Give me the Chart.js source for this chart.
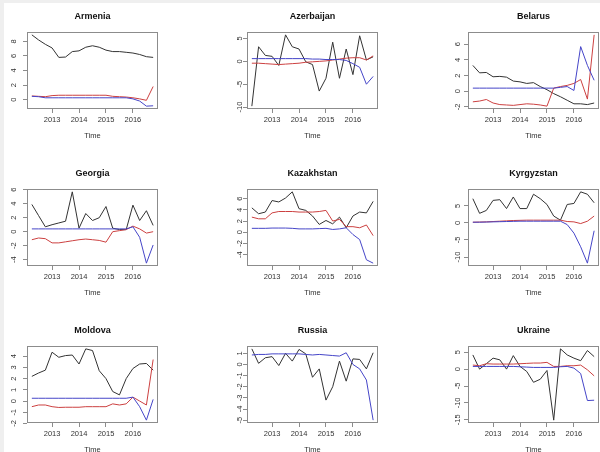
<!DOCTYPE html>
<html>
<head>
<meta charset="utf-8">
<script src="https://cdn.jsdelivr.net/npm/chart.js@4.4.1/dist/chart.umd.min.js"></script>
<style>
  html, body { margin: 0; padding: 0; background: #ffffff; }
  #wrap { position: absolute; left: 0; top: 0; width: 600px; height: 452px; overflow: hidden; background: #efefef; }
  #sheet { position: absolute; left: 4px; top: 3px; right: 0; bottom: 0; background: #ffffff; }
  canvas { position: absolute; }
</style>
</head>
<body>
<div id="wrap"><div id="sheet"></div></div>
<script>
// Quarterly observations, 2012 Q2 – 2016 Q4
const quarters = [2012.25, 2012.5, 2012.75, 2013, 2013.25, 2013.5, 2013.75, 2014, 2014.25, 2014.5,
                  2014.75, 2015, 2015.25, 2015.5, 2015.75, 2016, 2016.25, 2016.5, 2016.75];
const yearTicks = [2013, 2014, 2015, 2016];

const countries = ['Armenia', 'Azerbaijan', 'Belarus', 'Georgia', 'Kazakhstan', 'Kyrgyzstan', 'Moldova', 'Russia', 'Ukraine'];

// Armenia
const armeniaBlack = [8.9, 8.2, 7.6, 7.1, 5.8, 5.85, 6.6, 6.7, 7.2, 7.4, 7.2, 6.8, 6.6, 6.6, 6.5, 6.4, 6.2, 5.9, 5.8];
const armeniaRed   = [0.5, 0.45, 0.4, 0.55, 0.6, 0.6, 0.6, 0.6, 0.6, 0.6, 0.6, 0.6, 0.45, 0.4, 0.35, 0.25, 0.1, -0.1, 1.8];
const armeniaBlue  = [0.45, 0.4, 0.25, 0.25, 0.25, 0.25, 0.25, 0.25, 0.25, 0.25, 0.25, 0.25, 0.25, 0.25, 0.25, 0.1, -0.2, -0.9, -0.85];
const armeniaTicks = [0, 2, 4, 6, 8];

// Azerbaijan
const azerbaijanBlack = [-9.8, 3.2, 1.3, 1.1, -0.9, 5.8, 3.2, 2.7, -0.1, -0.7, -6.5, -3.7, 4.2, -3.7, 2.7, -2.9, 5.6, 0.3, 1.0];
const azerbaijanRed   = [-0.4, -0.4, -0.5, -0.6, -0.7, -0.6, -0.5, -0.4, -0.2, -0.1, 0.0, 0.1, 0.3, 0.5, 0.7, 0.8, 0.8, 0.3, 1.2];
const azerbaijanBlue  = [0.6, 0.6, 0.6, 0.6, 0.6, 0.6, 0.6, 0.6, 0.6, 0.5, 0.5, 0.4, 0.4, 0.4, 0.2, -0.5, -1.3, -5.0, -3.3];
const azerbaijanTicks = [-10, -5, 0, 5];

// Belarus
const belarusBlack = [3.3, 2.35, 2.4, 1.85, 1.9, 1.8, 1.3, 1.2, 1.0, 1.1, 0.6, 0.2, -0.3, -0.7, -1.15, -1.6, -1.6, -1.7, -1.5];
const belarusRed   = [-1.35, -1.25, -1.05, -1.5, -1.7, -1.75, -1.8, -1.7, -1.6, -1.65, -1.75, -1.9, 0.4, 0.6, 0.75, 1.0, 1.5, -1.0, 7.2];
const belarusBlue  = [0.4, 0.4, 0.4, 0.4, 0.4, 0.4, 0.4, 0.4, 0.4, 0.4, 0.4, 0.4, 0.4, 0.5, 0.6, 0.1, 5.7, 3.3, 1.4];
const belarusTicks = [-2, 0, 2, 4, 6];

// Georgia
const georgiaBlack = [3.9, 2.3, 0.7, 1.0, 1.25, 1.5, 5.7, 0.5, 2.6, 1.6, 2.0, 3.6, 0.5, 0.3, 0.3, 3.8, 1.6, 3.0, 0.9];
const georgiaRed   = [-1.15, -0.9, -1.0, -1.6, -1.6, -1.45, -1.3, -1.15, -1.05, -1.15, -1.25, -1.5, 0.0, 0.15, 0.3, 0.8, 0.4, -0.2, 0.0];
const georgiaBlue  = [0.4, 0.4, 0.4, 0.4, 0.4, 0.4, 0.4, 0.4, 0.4, 0.4, 0.4, 0.4, 0.4, 0.4, 0.4, 0.7, -0.8, -4.5, -1.9];
const georgiaTicks = [-4, -2, 0, 2, 4, 6];

// Kazakhstan
const kazakhstanBlack = [4.35, 3.3, 3.6, 5.65, 5.4, 6.1, 7.2, 4.2, 3.9, 2.9, 1.4, 2.1, 1.5, 2.7, 0.8, 2.9, 3.6, 3.45, 5.5];
const kazakhstanRed   = [2.7, 2.4, 2.4, 3.45, 3.7, 3.7, 3.7, 3.6, 3.6, 3.6, 3.7, 3.9, 2.0, 2.3, 1.0, 1.0, 0.8, 1.3, -0.6];
const kazakhstanBlue  = [0.7, 0.7, 0.7, 0.75, 0.75, 0.75, 0.7, 0.6, 0.6, 0.6, 0.65, 0.7, 0.5, 0.6, 0.8, -0.4, -1.3, -4.9, -5.5];
const kazakhstanTicks = [-4, -2, 0, 2, 4, 6];

// Kyrgyzstan
const kyrgyzstanBlack = [7.1, 2.8, 3.65, 6.6, 6.8, 4.2, 7.6, 4.2, 4.2, 8.4, 7.1, 5.4, 2.0, 0.8, 5.4, 5.7, 9.1, 8.4, 5.9];
const kyrgyzstanRed   = [0.2, 0.25, 0.3, 0.4, 0.5, 0.6, 0.7, 0.75, 0.8, 0.8, 0.8, 0.8, 0.8, 0.8, 0.4, 0.3, -0.2, 0.5, 2.0];
const kyrgyzstanBlue  = [0.2, 0.2, 0.25, 0.3, 0.35, 0.4, 0.45, 0.5, 0.5, 0.5, 0.5, 0.5, 0.5, 0.5, -0.5, -3.0, -7.0, -11.8, -2.3];
const kyrgyzstanTicks = [-10, -5, 0, 5];

// Moldova
const moldovaBlack = [2.2, 2.5, 2.75, 4.35, 3.9, 4.05, 4.1, 3.3, 4.65, 4.5, 2.7, 2.0, 0.85, 0.55, 2.0, 2.9, 3.3, 3.35, 2.75];
const moldovaRed   = [-0.5, -0.35, -0.35, -0.5, -0.57, -0.55, -0.55, -0.55, -0.5, -0.5, -0.5, -0.5, -0.25, -0.35, -0.25, 0.35, 0.0, -0.35, 3.7];
const moldovaBlue  = [0.25, 0.25, 0.25, 0.25, 0.25, 0.25, 0.25, 0.25, 0.25, 0.25, 0.25, 0.25, 0.25, 0.25, 0.25, 0.35, -0.5, -1.7, 0.15];
const moldovaTicks = [-2, -1, 0, 1, 2, 3, 4];

// Russia
const russiaBlack = [1.4, 0.1, 0.6, 0.7, -0.1, 1.0, 0.3, 1.35, 0.95, -1.15, -0.4, -3.2, -2.0, 0.3, -1.5, 0.5, 0.45, -0.4, 1.05];
const russiaRed   = null;
const russiaBlue  = [0.85, 0.9, 0.9, 0.95, 0.95, 0.95, 0.95, 0.95, 0.9, 0.85, 0.9, 0.85, 0.8, 0.75, 1.05, 0.0, -0.4, -1.4, -5.0];
const russiaTicks = [-5, -4, -3, -2, -1, 0, 1];

// Ukraine
const ukraineBlack = [4.2, 0.0, 1.6, 3.25, 2.75, 0.0, 4.0, 0.8, -0.7, -3.9, -3.0, -0.4, -15.1, 6.0, 4.2, 3.25, 2.5, 5.5, 3.7];
const ukraineRed   = [1.2, 1.0, 1.6, 1.5, 1.5, 1.5, 1.5, 1.6, 1.7, 1.8, 1.8, 2.0, 0.8, 0.8, 1.0, 1.0, 1.2, -0.2, -2.0];
const ukraineBlue  = [0.8, 0.8, 0.8, 0.8, 0.8, 0.8, 0.8, 0.7, 0.6, 0.5, 0.5, 0.5, 0.5, 0.7, 0.8, 0.3, -1.3, -9.3, -9.2];
const ukraineTicks = [-15, -10, -5, 0, 5];

const panelSeries = [
  [armeniaBlack, armeniaRed, armeniaBlue, armeniaTicks],
  [azerbaijanBlack, azerbaijanRed, azerbaijanBlue, azerbaijanTicks],
  [belarusBlack, belarusRed, belarusBlue, belarusTicks],
  [georgiaBlack, georgiaRed, georgiaBlue, georgiaTicks],
  [kazakhstanBlack, kazakhstanRed, kazakhstanBlue, kazakhstanTicks],
  [kyrgyzstanBlack, kyrgyzstanRed, kyrgyzstanBlue, kyrgyzstanTicks],
  [moldovaBlack, moldovaRed, moldovaBlue, moldovaTicks],
  [russiaBlack, russiaRed, russiaBlue, russiaTicks],
  [ukraineBlack, ukraineRed, ukraineBlue, ukraineTicks]
];

// Grid geometry (3 x 3 panels)
const colLeft = [0, 220, 441];
const rowTop = [0, 157, 314];
const cellW = 220, cellH = 157;
const plotLeft = 27, plotWidth = 131, plotBottom = 109;
const yLabelOffset = [13, 7, 10];

const FONT = '"Liberation Sans", Arial, Helvetica, sans-serif';
const COLORS = { black: '#333333', red: '#cc4040', blue: '#4545c8' };

// padded range, as in R's default axis extension (4% each side)
function paddedRange(values) {
  const lo = Math.min(...values), hi = Math.max(...values);
  const d = (hi - lo) * 0.04;
  return [lo - d, hi + d];
}

// Plot frame plus rotated y tick labels placed from the y scale
const framePlugin = {
  id: 'frameAndYLabels',
  afterDraw(chart, args, opts) {
    const { ctx, chartArea: a } = chart;
    const y = chart.scales.y;
    ctx.save();
    ctx.strokeStyle = '#8c8c8c';
    ctx.lineWidth = 1;
    ctx.strokeRect(Math.round(a.left) + 0.5, Math.round(a.top) + 0.5,
                   Math.round(a.right - a.left) - 1, Math.round(a.bottom - a.top) - 1);
    ctx.fillStyle = '#333333';
    ctx.font = '7.5px ' + FONT;
    ctx.textAlign = 'center';
    ctx.textBaseline = 'middle';
    y.ticks.forEach(t => {
      const py = y.getPixelForValue(t.value);
      ctx.save();
      ctx.translate(a.left - opts.offset, py);
      ctx.rotate(-Math.PI / 2);
      ctx.fillText(String(t.value), 0, 0);
      ctx.restore();
    });
    ctx.restore();
  }
};

const wrap = document.getElementById('wrap');
const [xMin, xMax] = paddedRange(quarters);

countries.forEach((name, idx) => {
  const [black, red, blue, ticks] = panelSeries[idx];
  const col = idx % 3, row = Math.floor(idx / 3);
  const canvas = document.createElement('canvas');
  canvas.width = cellW;
  canvas.height = cellH;
  canvas.style.left = colLeft[col] + 'px';
  canvas.style.top = rowTop[row] + 'px';
  wrap.appendChild(canvas);

  const all = [].concat(black, red || [], blue);
  const [yMin, yMax] = paddedRange(all);

  const toPoints = arr => arr.map((v, i) => ({ x: quarters[i], y: v }));
  const line = (arr, color) => ({
    data: toPoints(arr), borderColor: color, borderWidth: 1,
    pointRadius: 0, tension: 0, fill: false
  });
  // first dataset is painted on top
  const datasets = [line(blue, COLORS.blue)];
  if (red) datasets.push(line(red, COLORS.red));
  datasets.push(line(black, COLORS.black));

  new Chart(canvas, {
    type: 'line',
    data: { datasets },
    options: {
      responsive: false,
      animation: false,
      devicePixelRatio: 1,
      layout: { padding: { top: 0, left: 0, right: cellW - plotLeft - plotWidth, bottom: 0 } },
      plugins: {
        legend: { display: false },
        tooltip: { enabled: false },
        title: {
          display: true, text: name, fullSize: false, color: '#111111',
          font: { family: FONT, size: 9, weight: 'bold', lineHeight: 1.2 },
          padding: { top: 11.6, bottom: 9.6 }
        },
        frameAndYLabels: { offset: yLabelOffset[col] }
      },
      scales: {
        x: {
          type: 'linear', min: xMin, max: xMax,
          afterBuildTicks: s => { s.ticks = yearTicks.map(v => ({ value: v })); },
          afterFit: s => { s.height = cellH - plotBottom; },
          grid: { drawOnChartArea: false, drawTicks: true, tickLength: 4, color: '#8c8c8c' },
          border: { display: false },
          ticks: {
            autoSkip: false, maxRotation: 0, minRotation: 0, padding: 2.5,
            color: '#333333', font: { family: FONT, size: 7.5 },
            callback: v => String(v)
          },
          title: {
            display: true, text: 'Time', color: '#333333',
            font: { family: FONT, size: 7.5, lineHeight: 1.2 },
            padding: { top: 0, bottom: 16.5 }
          }
        },
        y: {
          type: 'linear', min: yMin, max: yMax,
          afterBuildTicks: s => { s.ticks = ticks.map(v => ({ value: v })); },
          afterFit: s => { s.width = plotLeft; },
          grid: { drawOnChartArea: false, drawTicks: true, tickLength: 4, color: '#8c8c8c' },
          border: { display: false },
          ticks: { display: false }
        }
      }
    },
    plugins: [framePlugin]
  });
});
</script>
</body>
</html>
